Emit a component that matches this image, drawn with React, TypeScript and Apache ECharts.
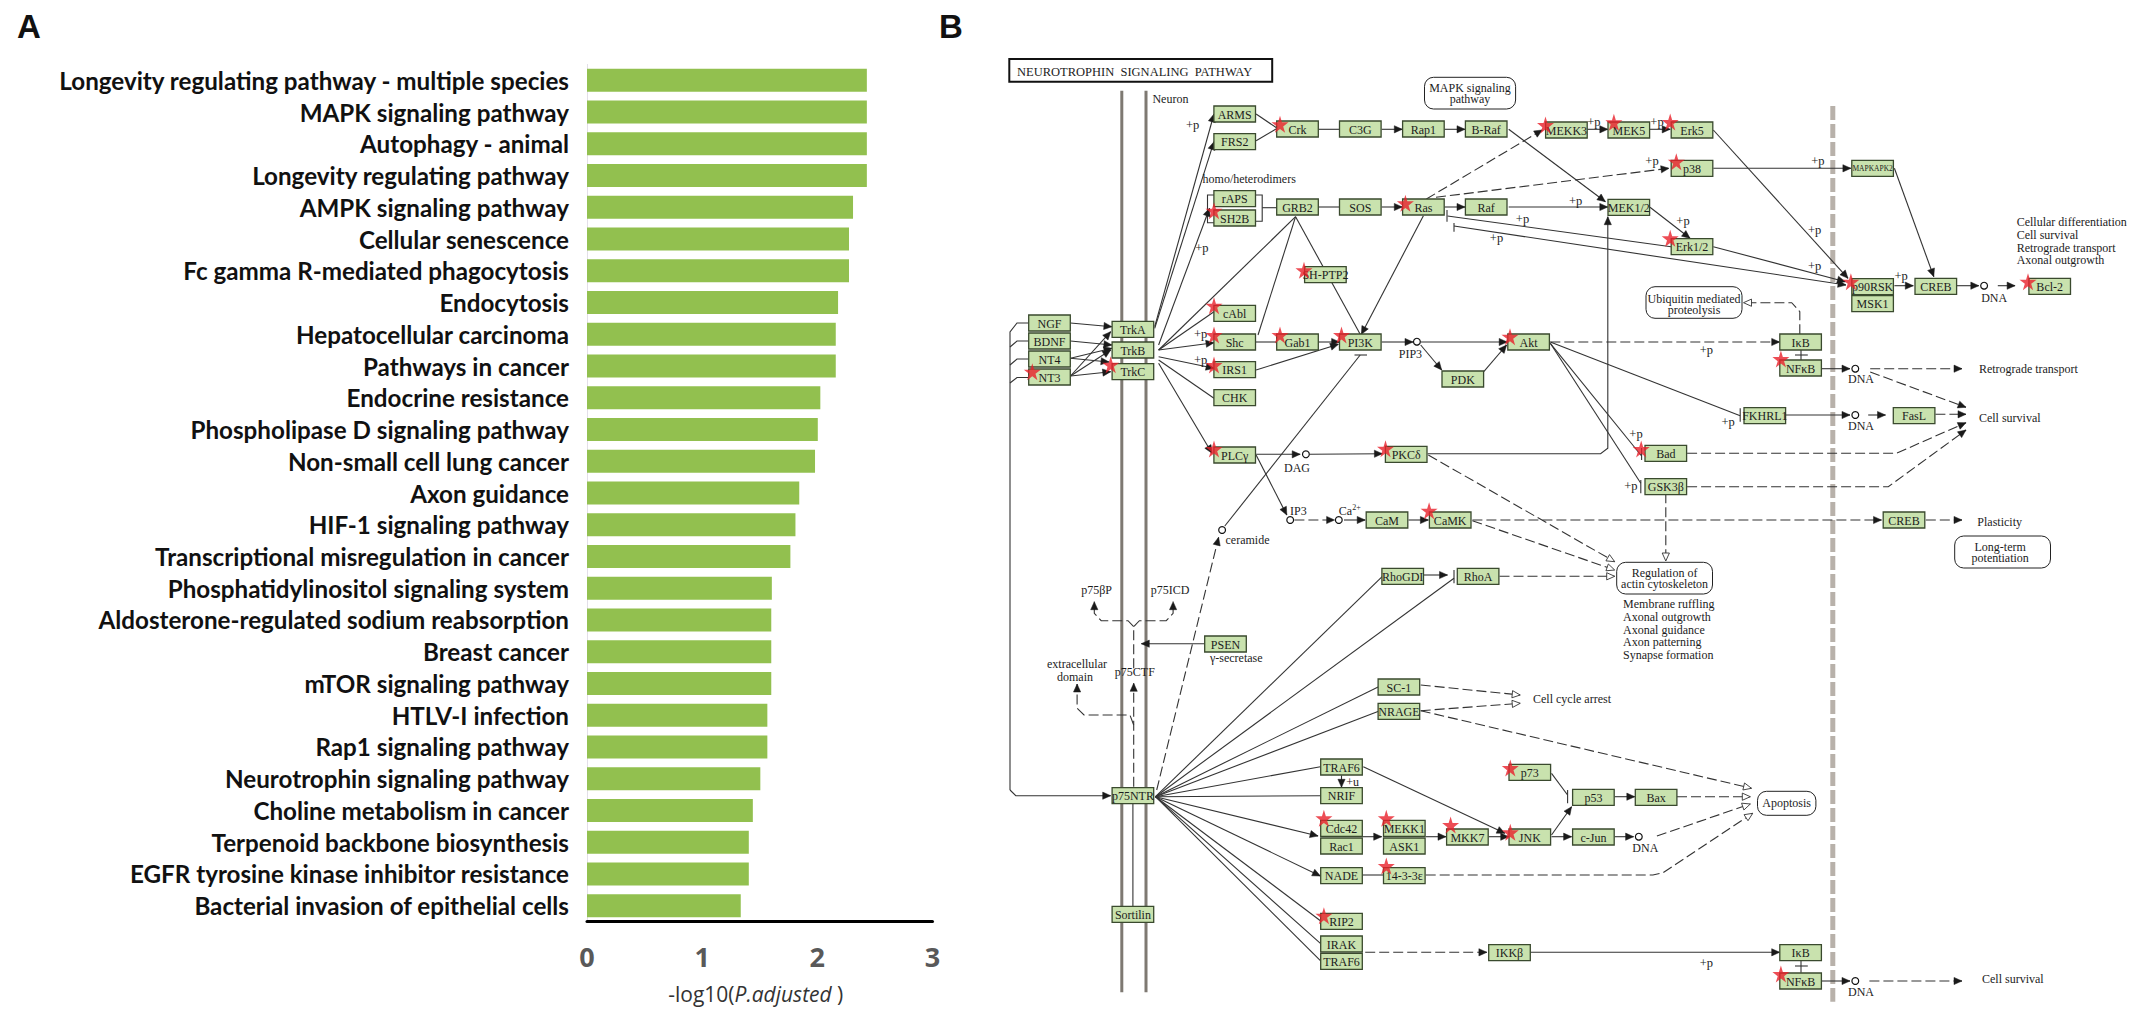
import React, { useEffect, useRef } from "react";
import * as echarts from "echarts";

const W = 2131;
const H = 1013;

// ---------- Panel A ----------
const categories = [
  "Longevity regulating pathway - multiple species", "MAPK signaling pathway", "Autophagy - animal",
  "Longevity regulating pathway", "AMPK signaling pathway", "Cellular senescence",
  "Fc gamma R-mediated phagocytosis", "Endocytosis", "Hepatocellular carcinoma", "Pathways in cancer",
  "Endocrine resistance", "Phospholipase D signaling pathway", "Non-small cell lung cancer", "Axon guidance",
  "HIF-1 signaling pathway", "Transcriptional misregulation in cancer", "Phosphatidylinositol signaling system",
  "Aldosterone-regulated sodium reabsorption", "Breast cancer", "mTOR signaling pathway", "HTLV-I infection",
  "Rap1 signaling pathway", "Neurotrophin signaling pathway", "Choline metabolism in cancer",
  "Terpenoid backbone biosynthesis", "EGFR tyrosine kinase inhibitor resistance", "Bacterial invasion of epithelial cells",
];
const values = [
  2.43, 2.43, 2.43, 2.43, 2.31, 2.275, 2.275, 2.18, 2.16, 2.16, 2.026, 2.004, 1.98, 1.843, 1.81, 1.766,
  1.605, 1.6, 1.6, 1.6, 1.566, 1.566, 1.505, 1.44, 1.405, 1.405, 1.335,
];
const tickStep = 1;

// ---------- Panel B: pathway diagram, [label, centre x, centre y] ----------
const pathwayNodes: [string, number, number][] = [
  ["ARMS", 1234.7, 114], ["FRS2", 1234.7, 141.7], ["Crk", 1297.5, 129], ["C3G", 1360.3, 129], ["Rap1", 1423.4, 129],
  ["B-Raf", 1486.2, 129], ["rAPS", 1234.7, 198.7], ["SH2B", 1234.7, 218], ["GRB2", 1297.5, 207], ["SOS", 1360.3, 207],
  ["Ras", 1423.4, 207], ["Raf", 1486.2, 207], ["SH-PTP2", 1325.4, 274.7], ["cAbl", 1234.7, 313.3], ["Shc", 1234.7, 342],
  ["Gab1", 1297.5, 342], ["PI3K", 1360.3, 342], ["Akt", 1528.6, 342], ["IRS1", 1234.7, 369.7], ["CHK", 1234.7, 397.7],
  ["PDK", 1462.8, 379], ["PLCγ", 1234.7, 455], ["PKCδ", 1406.2, 454.3], ["NGF", 1049.5, 323], ["BDNF", 1049.5, 341],
  ["NT4", 1049.5, 359], ["NT3", 1049.5, 377], ["TrkA", 1132.9, 329.3], ["TrkB", 1132.9, 350], ["TrkC", 1132.9, 371.7],
  ["MEKK3", 1566.4, 130], ["MEK5", 1628.8, 130], ["Erk5", 1692, 130], ["p38", 1692, 168.3], ["MAPKAPK2", 1872.6, 168.3],
  ["MEK1/2", 1628.8, 207.3], ["Erk1/2", 1692, 246.7], ["p90RSK", 1872.6, 286.7], ["MSK1", 1872.6, 303.7],
  ["CREB", 1935.8, 286.3], ["Bcl-2", 2049.7, 286.3], ["IκB", 1800.6, 342], ["NFκB", 1800.6, 368], ["FKHRL1", 1764.8, 415.7],
  ["FasL", 1914.1, 415.7], ["Bad", 1665.8, 453.3], ["GSK3β", 1665.8, 486.7], ["CaM", 1387, 520], ["CaMK", 1450.2, 520],
  ["RhoGDI", 1402.7, 576.3], ["RhoA", 1478.1, 576.3], ["PSEN", 1225.5, 644], ["SC-1", 1398.9, 687], ["NRAGE", 1398.9, 711.3],
  ["TRAF6", 1341.5, 767], ["NRIF", 1341.5, 795.7], ["p75NTR", 1132.9, 795.7], ["Cdc42", 1341.5, 828.3], ["Rac1", 1341.5, 846],
  ["MEKK1", 1404.3, 828.3], ["ASK1", 1404.3, 846], ["MKK7", 1467.4, 837], ["JNK", 1529.8, 837], ["p73", 1529.8, 772.3],
  ["NADE", 1341.5, 875.7], ["14-3-3ε", 1404.3, 875.7], ["RIP2", 1341.5, 921.3], ["IRAK", 1341.5, 944], ["TRAF6", 1341.5, 961.3],
  ["IKKβ", 1509.5, 952.7], ["Sortilin", 1132.9, 914.3], ["CREB", 1904, 520], ["p53", 1593.4, 797.3], ["Bax", 1656.1, 797.3],
  ["c-Jun", 1593.4, 837], ["IκB", 1800.6, 952.7], ["NFκB", 1800.6, 981],
];

const starPoints: [number, number][] = [
  [1280, 124.3], [1214, 210.7], [1405.4, 203.3], [1304, 270.3], [1214, 305.7], [1214, 335], [1280, 335], [1341.5, 335],
  [1510, 336.7], [1214, 365], [1214, 449], [1385.5, 448.7], [1032.3, 371.7], [1110.7, 364.7], [1545.5, 125], [1613.9, 122.3],
  [1670.2, 122], [1676.3, 161.7], [1670.2, 238.3], [1850.9, 281.7], [2028, 281.7], [1780.9, 359], [1641.2, 449],
  [1429.1, 510.7], [1323.9, 818.3], [1386.3, 818.3], [1450.6, 825], [1510.3, 832.3], [1510.3, 768], [1386.3, 866],
  [1323.9, 915.7], [1780.9, 974],
];

// [left, top, right, bottom, line 1, line 2, line y 1, line y 2, text centre x]
const roundedBoxes: [number, number, number, number, string, string, number, number, number][] = [
  [1424.5, 77.3, 1515.6, 109, "MAPK signaling", "pathway", 88.2, 99, 1470],
  [1646, 286.7, 1742, 318.3, "Ubiquitin mediated", "proteolysis", 298.5, 309.5, 1694],
  [1616.7, 562.3, 1712.5, 594, "Regulation of", "actin cytoskeleton", 573, 584, 1664.6],
  [1954.7, 536, 2050.5, 568, "Long-term", "potentiation", 547, 558, 2000.2],
  [1757.5, 791.3, 1815.9, 815.3, "Apoptosis", "", 803, 803, 1786.7],
];

const plusP: [number, number][] = [
  [1192.6, 125.3], [1201.8, 248.3], [1200.6, 334.3], [1200.6, 360], [1522.5, 219.3], [1496.5, 237.7], [1593.8, 121.7],
  [1657, 121.7], [1652, 161], [1817.9, 161], [1575.7, 200.7], [1683, 221], [1814.7, 230], [1814.7, 266], [1901.2, 276],
  [1706.4, 350], [1728.2, 421.7], [1636, 434.3], [1630.8, 486], [1706.4, 962.7],
];
const dnaLabels: [number, number][] = [
  [1994.2, 298.3], [1861, 379], [1861, 426], [1645.3, 847.7], [1861, 992.3],
];
const centredTexts: [string, number, number][] = [
  ["homo/heterodimers", 1249.2, 179.3], ["PIP3", 1410.4, 354], ["DAG", 1297, 467.7], ["p75βP", 1096.6, 590], ["p75ICD", 1170, 590],
  ["p75CTF", 1134.8, 671.7], ["extracellular", 1077, 664], ["domain", 1075, 676.5], ["γ-secretase", 1236.3, 658.3],
  ["+u", 1352.6, 782.3], ["Ca", 1345.3, 510.7], ["IP3", 1298.3, 511],
];
const leftTexts: [string, number, number][] = [
  ["Neuron", 1152.4, 99.3], ["Cellular differentiation", 2016.7, 222.3], ["Cell survival", 2016.7, 234.7],
  ["Retrograde transport", 2016.7, 247.7], ["Axonal outgrowth", 2016.7, 260.3], ["Retrograde transport", 1978.9, 369.3],
  ["Cell survival", 1978.9, 418], ["Cell survival", 1982, 979.3], ["Plasticity", 1977.3, 521.7], ["Membrane ruffling", 1623.1, 604],
  ["Axonal outgrowth", 1623.1, 617], ["Axonal guidance", 1623.1, 629.7], ["Axon patterning", 1623.1, 642.3],
  ["Synapse formation", 1623.1, 654.7], ["Cell cycle arrest", 1533, 699.3], ["ceramide", 1225.5, 540],
];
const circles: [number, number][] = [
  [1984.1, 285.7], [1416.9, 341.7], [1855.3, 368.7], [1855.3, 415], [1305.9, 454.3], [1290.2, 520], [1338.8, 520],
  [1222.1, 530], [1638.8, 836.7], [1855.3, 981],
];

// Flat polylines [x1, y1, x2, y2, ...]
const solidPlain: number[][] = [
  [1010, 790, 1010, 332, 1017, 323, 1028.5, 323], [1010, 347, 1017, 341, 1028.5, 341], [1010, 365, 1017, 359, 1028.5, 359],
  [1010, 383, 1017, 377.5, 1028.5, 377.5],
  [1158.6, 350, 1214, 311.7], [1158.6, 360, 1214, 398.3], [1158.6, 350, 1295.6, 216.7],
  [1295.6, 216.7, 1258, 335], [1295.6, 216.7, 1360.2, 334.3],
  [1214, 195, 1207.5, 195, 1207.5, 222.7, 1214, 222.7], [1255.4, 195, 1262.2, 195, 1262.2, 221.3, 1255.4, 221.3],
  [1262.2, 207.7, 1277.2, 207.7], [1256.1, 114, 1277.2, 128.3], [1256.1, 140.7, 1277.2, 128.3], [1318.5, 129.3, 1339.6, 129.3],
  [1318.5, 207, 1339.6, 207], [1447, 210, 1447, 221.7], [1447.5, 216, 1671, 246.7], [1454, 223, 1454, 231.7],
  [1255.4, 342, 1277.2, 342], [1801, 350, 1801, 360], [1795, 355, 1807.8, 355],
  [1550.3, 342, 1740.2, 415.7], [1740.2, 408.3, 1740.2, 421.7], [1550.3, 343.3, 1641.6, 456], [1641.6, 448, 1641.6, 460],
  [1550.3, 343.3, 1640.8, 483.3], [1640.8, 480, 1640.8, 493.3], [1454, 570, 1454, 583.3],
  [1224.8, 526, 1360.2, 355], [1354.5, 355, 1367, 355],
  [1155.5, 796.7, 1382.4, 576.3], [1155.5, 796.7, 1454, 578.3], [1155.5, 796.7, 1378.6, 686.7], [1155.5, 796.7, 1378.6, 711.3],
  [1155.5, 796.7, 1320.4, 766.7], [1155.5, 796.7, 1320.4, 795.7], [1155.5, 796.7, 1320.4, 920.7], [1155.5, 796.7, 1320.4, 943.3],
  [1155.5, 796.7, 1320.4, 960.7], [1551.5, 773.3, 1567.6, 795], [1567.6, 790, 1567.6, 803.3], [1362.5, 875, 1383.6, 875],
  [1801, 960.7, 1801, 972.7], [1795, 966, 1807.8, 966], [1132.9, 803.3, 1132.9, 906.7],
];
const solidArrows: number[][] = [
  [1010, 790, 1015.8, 795.7, 1110.7, 795.7], [1070.5, 323, 1111.9, 326.7], [1070.5, 341, 1111.9, 345], [1070.5, 358.3, 1111.9, 348.3],
  [1070.5, 376, 1110.7, 331.7], [1070.5, 376, 1110.7, 350], [1070.5, 376, 1110.7, 371.7], [1070.5, 358.3, 1109, 362],
  [1154.7, 326.7, 1214, 114], [1154.7, 328.3, 1214, 141.7], [1158.6, 345, 1209.5, 208.3], [1158.6, 350, 1214, 342.7],
  [1158.6, 356.7, 1214, 368.3], [1158.6, 363.3, 1212, 453.3], [1381.7, 129.3, 1402.3, 129.3], [1444.4, 129.3, 1465, 129.3],
  [1508.7, 129.3, 1605.4, 201.7], [1381.7, 207, 1402.3, 207], [1444.4, 207, 1465, 207], [1508.7, 207, 1607.8, 207],
  [1423.4, 215.7, 1361.4, 334.3], [1454, 226, 1846, 285], [1713.3, 246.7, 1845.3, 281.7], [1713.3, 130, 1848, 278.3],
  [1587.3, 129.3, 1607.8, 129.3], [1650, 129.3, 1670.2, 129.3], [1650, 207.3, 1690, 238.3], [1713.3, 168.3, 1850.9, 168.3],
  [1894.4, 168.3, 1933.8, 276.7], [1894.4, 285.7, 1913.3, 285.7], [1956.7, 285.7, 1978.8, 285.7], [1997.8, 285.7, 2015.1, 285.7],
  [1318.5, 342, 1339.6, 342], [1256.1, 370, 1338.4, 344.3], [1381.7, 342, 1413, 342], [1420.7, 342, 1507.2, 342],
  [1420.7, 345, 1441.7, 370], [1483.8, 371.7, 1506.6, 345], [1821.9, 368.7, 1850, 368.7], [1785.7, 415, 1850, 415],
  [1868.2, 415, 1885.5, 415], [1256.1, 454.3, 1300.2, 454.3], [1309.7, 454.3, 1382.4, 453.7],
  [1427.6, 453.7, 1600.6, 453.7, 1607.8, 448.3, 1607.8, 216.7], [1256.1, 455, 1286.8, 515], [1344, 520, 1365.2, 520],
  [1408.5, 520, 1428.4, 520], [1423.8, 575, 1447.5, 575], [1155.5, 796.7, 1318.1, 836], [1155.5, 796.7, 1320.4, 876],
  [1341.5, 775.3, 1341.5, 787.3], [1363.3, 766.7, 1504.9, 833.3], [1362.5, 836.7, 1381.7, 836.7], [1425.7, 836.7, 1446, 836.7],
  [1488.8, 836.7, 1508.7, 836.7], [1551.5, 835, 1571.6, 806.7], [1551.5, 836.7, 1571.6, 836.7], [1614.7, 836.7, 1633.6, 836.7],
  [1614.7, 796.7, 1634.8, 796.7], [1530.6, 952.3, 1779.7, 952.3], [1821.9, 981, 1850, 981], [1204.5, 643.7, 1141.3, 643.7],
];
const dashedArrows: number[][] = [
  [1426.4, 199, 1542.3, 130], [1436, 197.3, 1669, 168.3], [1550.3, 342, 1779.7, 342], [1870.2, 368.7, 1962, 368.7],
  [1870.2, 372, 1966, 407.3], [1935.4, 414.3, 1966, 414.3], [1687.1, 453.3, 1896.4, 453.3, 1966, 422.7],
  [1687.1, 486.7, 1888.3, 486.7, 1966, 430], [1294.4, 520, 1334.6, 520], [1472.4, 520, 1881.5, 520], [1925.8, 520, 1962, 520],
  [1156.7, 790, 1218.6, 537.3], [1365.2, 952.3, 1486.9, 952.3], [1869.4, 981, 1962, 981], [1133.7, 786.7, 1133.7, 683.3],
  [1133.7, 668.3, 1133.7, 626.7, 1139.4, 620.7, 1166.2, 620.7, 1173.1, 613.3, 1173.1, 601.7],
  [1133.7, 626.7, 1128, 620.7, 1101.2, 620.7, 1094.3, 613.3, 1094.3, 601.7],
  [1133.7, 725, 1129.9, 715, 1084, 715, 1077.1, 708.3, 1077.1, 684],
];
const dashedOpen: number[][] = [
  [1799.8, 334.3, 1799.8, 311.7, 1791.7, 302.7, 1743.5, 302.7], [1428.3, 455, 1614.7, 561.7], [1472.4, 520.7, 1614.7, 570],
  [1665.8, 493.3, 1665.8, 561], [1499.5, 576.3, 1614.7, 576.3], [1656.9, 836, 1750.3, 804], [1677, 796.7, 1750.3, 796.7],
  [1420.7, 710.7, 1751.5, 788.3], [1420.7, 710.7, 1520.2, 703.3], [1420.7, 685, 1520.2, 695],
  [1425.7, 875, 1652.9, 875, 1663, 872.7, 1752.7, 813.3],
];
const membraneLines: number[][] = [[1121.8, 90.7, 1121.8, 992.3], [1146, 90.7, 1146, 992.3]];
const dashedMembrane: number[][] = [[1832.8, 106, 1832.8, 1001.7]];

const SERIF = '"Liberation Serif", serif';
const LINE = "#333333";
const STAR = "path://M50 0 L61 35 L98 35 L68 57 L79 91 L50 70 L21 91 L32 57 L2 35 L39 35 Z";

const pts = (api: any, flat: number[]) => {
  const out: number[][] = [];
  for (let i = 0; i + 1 < flat.length; i += 2) out.push(api.coord([flat[i], flat[i + 1]]));
  return out;
};

function arrowHead(p: number[][], open: boolean) {
  const a = p[p.length - 2];
  const b = p[p.length - 1];
  const d = Math.hypot(b[0] - a[0], b[1] - a[1]) || 1;
  const ux = (b[0] - a[0]) / d;
  const uy = (b[1] - a[1]) / d;
  const len = 8;
  const hw = 3.6;
  return {
    type: "polygon",
    shape: {
      points: [b, [b[0] - ux * len - uy * hw, b[1] - uy * len + ux * hw], [b[0] - ux * len + uy * hw, b[1] - uy * len - ux * hw]],
    },
    style: open ? { fill: "#ffffff", stroke: LINE, lineWidth: 0.9 } : { fill: "#1a1a1a", stroke: "#1a1a1a", lineWidth: 0.5 },
  };
}

function lineSeries(list: number[][], stroke: string, lineWidth: number, dash: number[] | null, head: "none" | "fill" | "open", z: number) {
  return {
    type: "custom",
    xAxisIndex: 1,
    yAxisIndex: 1,
    coordinateSystem: "cartesian2d",
    silent: true,
    z,
    clip: false,
    data: list.map((l, i) => [l[0], l[1], i]),
    renderItem: (params: any, api: any) => {
      const p = pts(api, list[params.dataIndex]);
      const children: any[] = [
        {
          type: "polyline",
          shape: { points: p },
          style: { stroke, lineWidth, fill: "none", lineDash: dash ?? undefined },
        },
      ];
      if (head !== "none") children.push(arrowHead(p, head === "open"));
      return { type: "group", children };
    },
  };
}

function textEl(api: any, text: string, x: number, y: number, align: string, size = 12) {
  const c = api.coord([x, y]);
  return {
    type: "text",
    x: c[0],
    y: c[1],
    style: { text, fontFamily: SERIF, fontSize: size, fill: "#1c1c1c", align, verticalAlign: "middle" },
  };
}

function textSeries(list: [string, number, number][], align: string, size: number) {
  return {
    type: "custom",
    xAxisIndex: 1,
    yAxisIndex: 1,
    silent: true,
    z: 6,
    clip: false,
    data: list.map((t) => [t[1], t[2]]),
    renderItem: (params: any, api: any) => {
      const t = list[params.dataIndex];
      return textEl(api, t[0], t[1], t[2], align, size);
    },
  };
}

function buildOption() {
  const nodeW = 41.6;
  const nodeH = 16;
  return {
    animation: false,
    backgroundColor: "#ffffff",
    grid: [
      { left: 587, top: 64.4, width: 345.5, height: 857.2, containLabel: false },
      { left: 0, top: 0, width: W, height: H, containLabel: false },
    ],
    xAxis: [
      {
        gridIndex: 0,
        type: "value",
        min: 0,
        max: 3,
        interval: tickStep,
        splitLine: { show: false },
        axisTick: { show: false },
        axisLine: { show: true, lineStyle: { color: "#000000", width: 3 } },
        axisLabel: { color: "#595959", fontFamily: "Open Sans", fontWeight: "bold", fontSize: 27, margin: 21 },
        name: "-log10({i|P.adjusted} )",
        nameLocation: "middle",
        nameGap: 62,
        nameTextStyle: {
          fontFamily: "Open Sans",
          fontSize: 21,
          color: "#333333",
          padding: [0, 8, 0, 0],
          rich: { i: { fontFamily: "Open Sans", fontSize: 21, fontStyle: "italic", color: "#333333" } },
        },
      },
      { gridIndex: 1, type: "value", min: 0, max: W, show: false },
    ],
    yAxis: [
      {
        gridIndex: 0,
        type: "category",
        inverse: true,
        data: categories,
        axisTick: { show: false },
        axisLine: { show: true, onZero: false, lineStyle: { color: "#e3dfe8", width: 1 } },
        axisLabel: { interval: 0, color: "#111111", fontFamily: "Lato", fontWeight: "bold", fontSize: 24.2, margin: 18 },
      },
      { gridIndex: 1, type: "value", min: 0, max: H, inverse: true, show: false },
    ],
    graphic: [
      { type: "text", x: 17, y: 10, style: { text: "A", fontFamily: "Liberation Sans", fontWeight: "bold", fontSize: 33, fill: "#111111" } },
      { type: "text", x: 939, y: 10, style: { text: "B", fontFamily: "Liberation Sans", fontWeight: "bold", fontSize: 33, fill: "#111111" } },
    ],
    series: [
      {
        type: "bar",
        xAxisIndex: 0,
        yAxisIndex: 0,
        data: values,
        barWidth: 23,
        itemStyle: { color: "#92c04f" },
        silent: true,
      },
      lineSeries(membraneLines, "#7e7972", 3, null, "none", 1),
      lineSeries(dashedMembrane, "#b8b1aa", 5, [14, 4], "none", 1),
      lineSeries(solidPlain, LINE, 1.1, null, "none", 2),
      lineSeries(solidArrows, LINE, 1.1, null, "fill", 2),
      lineSeries(dashedArrows, LINE, 1.1, [10, 4], "fill", 2),
      lineSeries(dashedOpen, LINE, 1.1, [10, 4], "open", 2),
      {
        type: "custom",
        xAxisIndex: 1,
        yAxisIndex: 1,
        silent: true,
        z: 3,
        clip: false,
        data: circles.map((c) => [c[0], c[1]]),
        renderItem: (params: any, api: any) => {
          const c = api.coord(circles[params.dataIndex]);
          return { type: "circle", shape: { cx: c[0], cy: c[1], r: 3.4 }, style: { fill: "#ffffff", stroke: "#111111", lineWidth: 1.2 } };
        },
      },
      {
        type: "custom",
        xAxisIndex: 1,
        yAxisIndex: 1,
        silent: true,
        z: 4,
        clip: false,
        data: pathwayNodes.map((n) => [n[1], n[2]]),
        renderItem: (params: any, api: any) => {
          const n = pathwayNodes[params.dataIndex];
          const c = api.coord([n[1], n[2]]);
          return {
            type: "group",
            children: [
              {
                type: "rect",
                shape: { x: c[0] - nodeW / 2, y: c[1] - nodeH / 2, width: nodeW, height: nodeH },
                style: { fill: "#c9e2ae", stroke: "#3a4a2e", lineWidth: 1.3 },
              },
              textEl(api, n[0], n[1], n[2] + 0.5, "center", n[0] === "MAPKAPK2" ? 7.5 : 12),
            ],
          };
        },
      },
      {
        type: "custom",
        xAxisIndex: 1,
        yAxisIndex: 1,
        silent: true,
        z: 4,
        clip: false,
        data: roundedBoxes.map((b) => [b[0], b[1]]),
        renderItem: (params: any, api: any) => {
          const b = roundedBoxes[params.dataIndex];
          const a = api.coord([b[0], b[1]]);
          const e = api.coord([b[2], b[3]]);
          const children: any[] = [
            {
              type: "rect",
              shape: { x: a[0], y: a[1], width: e[0] - a[0], height: e[1] - a[1], r: 9 },
              style: { fill: "#ffffff", stroke: "#222222", lineWidth: 1 },
            },
            textEl(api, b[4], b[8], b[6], "center"),
          ];
          if (b[5]) children.push(textEl(api, b[5], b[8], b[7], "center"));
          return { type: "group", children };
        },
      },
      textSeries(centredTexts, "center", 12),
      textSeries(leftTexts, "left", 12),
      textSeries(plusP.map((p) => ["+p", p[0], p[1]] as [string, number, number]), "center", 12.5),
      textSeries(dnaLabels.map((p) => ["DNA", p[0], p[1]] as [string, number, number]), "center", 12),
      textSeries([["2+", 1356.4, 507.3]], "center", 8),
      {
        type: "custom",
        xAxisIndex: 1,
        yAxisIndex: 1,
        silent: true,
        z: 6,
        clip: false,
        data: [[1009.3, 59]],
        renderItem: (_p: any, api: any) => {
          const a = api.coord([1009.3, 59]);
          const e = api.coord([1272.2, 81.7]);
          return {
            type: "group",
            children: [
              { type: "rect", shape: { x: a[0], y: a[1], width: e[0] - a[0], height: e[1] - a[1] }, style: { fill: "#ffffff", stroke: "#111111", lineWidth: 2 } },
              textEl(api, "NEUROTROPHIN  SIGNALING  PATHWAY", 1017, 71.7, "left", 12.5),
            ],
          };
        },
      },
      {
        type: "scatter",
        xAxisIndex: 1,
        yAxisIndex: 1,
        silent: true,
        z: 7,
        symbol: STAR,
        symbolSize: 17,
        itemStyle: { color: "#e8202a" },
        data: starPoints,
      },
    ],
  };
}

export default function App() {
  const ref = useRef<HTMLDivElement>(null);
  useEffect(() => {
    if (!ref.current) return;
    const chart = echarts.init(ref.current, undefined, { renderer: "svg" });
    chart.setOption(buildOption() as any);
    return () => chart.dispose();
  }, []);
  return <div ref={ref} style={{ position: "absolute", left: 0, top: 0, width: W, height: H }} />;
}
